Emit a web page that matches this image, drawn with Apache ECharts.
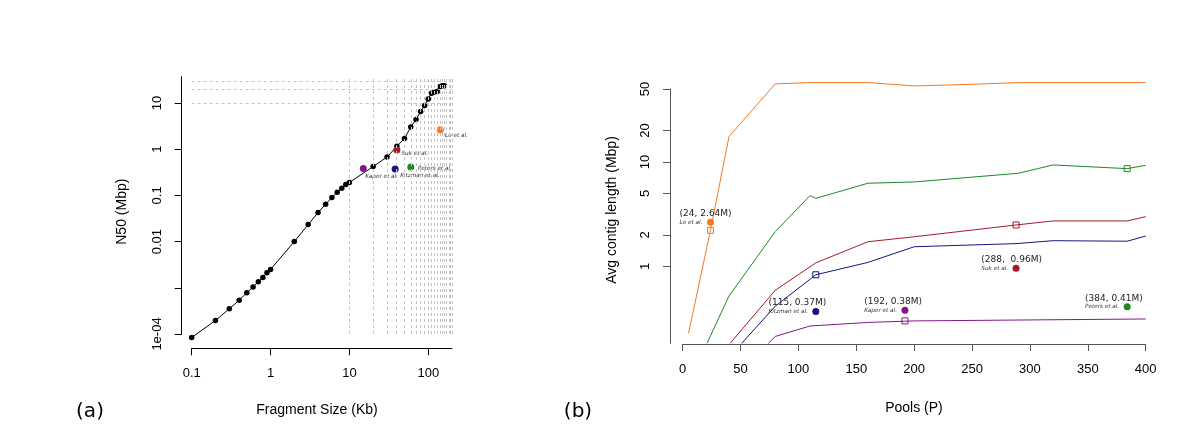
<!DOCTYPE html>
<html><head><meta charset="utf-8">
<script src="https://cdn.jsdelivr.net/npm/echarts@6/dist/echarts.min.js"></script>
<style>html,body{margin:0;padding:0;background:#fff}#c{width:1200px;height:435px}</style>
</head><body><div id="c"></div>
<script>
// ---------- Panel (a): N50 vs fragment size ----------
const fragSizeKb = [0.1,0.2,0.3,0.4,0.5,0.6,0.7,0.8,0.9,1,2,3,4,5,6,7,8,9,10,20,30,40,50,60,70,80,90,100,110,120,130,140,150,160];
const n50Mbp = [8.4e-5,1.96e-4,3.5e-4,5.4e-4,7.8e-4,1.04e-3,1.35e-3,1.68e-3,2.12e-3,2.5e-3,0.01,0.0233,0.0425,0.0644,0.09,0.117,0.143,0.172,0.19,0.42,0.675,1.15,1.71,3.0,4.4,6.5,8.8,12.2,16.3,17.3,17.8,22.5,23.5,23.7];
const studyNamesA = ['Lo et al.','Suk et al.','Peters et al.','Kitzman et al.','Kaper et al.'];
const studyFragKb = [142, 40, 60, 38, 15];
const studyN50 = [2.64, 0.96, 0.41, 0.37, 0.38];
const refLinesFragKb = [10,20,30,40,50,60,70,80,90,100,110,120,130,140,150,160,170,180,190,200];
const refLinesN50 = [10,20,30];
const aXTicks = [0.1,1,10,100];
const aXTickLabels = ['0.1','1','10','100'];
const aYTicks = [1e-4,1e-3,0.01,0.1,1,10];
const aYTickLabels = ['1e-04','','0.01','0.1','1','10'];

// ---------- Panel (b): avg contig length vs pools ----------
const orangeP = [5,24,40,80,110,160,200,250,290,400];
const orangeV = [0.228,2.21,17.5,56,57.6,57.6,53.5,55.5,57.6,57.6];
const greenP = [21,40,80,110,115,160,200,290,320,384,400];
const greenV = [0.183,0.52,2.15,4.76,4.48,6.25,6.43,7.79,9.36,8.63,9.29];
const redP = [41,80,115,160,200,288,320,384,400];
const redV = [0.183,0.59,1.08,1.72,1.92,2.49,2.72,2.72,2.99];
const blueP = [51,80,115,160,200,288,320,384,400];
const blueV = [0.183,0.415,0.83,1.09,1.54,1.65,1.76,1.74,1.95];
const purpleP = [74,80,110,160,200,400];
const purpleV = [0.183,0.213,0.268,0.29,0.30,0.313];
const squareP = [24,115,192,288,384];
const squareV = [2.21,0.83,0.30,2.49,8.63];
const studyNamesB = ['Lo et al.','Kitzman et al.','Kaper et al.','Suk et al.','Peters et al.'];
const studyP = [24,115,192,288,384];
const studyAvg = [2.64,0.37,0.38,0.96,0.41];
const studyCoordLabels = ['(24, 2.64M)','(115, 0.37M)','(192, 0.38M)','(288,  0.96M)','(384, 0.41M)'];
const bXTicks = [0,50,100,150,200,250,300,350,400];
const bYTicks = [1,2,5,10,20,50];
const bYTickLabels = ['1','2','5','10','20','50'];

// ---------- styles ----------
const C = {orange:'#f7781e', green:'#1f8a24', red:'#a8182a', blue:'#14147e', purple:'#85168a'};
const colorA = {'Lo et al.':C.orange,'Suk et al.':C.red,'Peters et al.':C.green,'Kitzman et al.':C.blue,'Kaper et al.':C.purple};
const nudgeA = {'Lo et al.':[4.7,5.7],'Suk et al.':[4.5,4],'Peters et al.':[7,1.7],'Kitzman et al.':[5,6.5],'Kaper et al.':[2,7.5]};
const squareColors = [C.orange,C.blue,C.purple,C.red,C.green];
const AX = 'Liberation Sans, Arial, sans-serif';
const DJ = 'DejaVu Sans, sans-serif';
const L = v => Math.log10(v);
const fmtFrom = (ticks, labels) => v => { for (let i=0;i<ticks.length;i++){ if (Math.abs(L(ticks[i])-v)<1e-6) return labels[i]; } return ''; };

const cv = document.createElement('canvas').getContext('2d');
const etalFont = 'italic 5.7px DejaVu Sans';
function tw(t){ cv.font = etalFont; return cv.measureText(t).width; }

const chart = echarts.init(document.getElementById('c'), null, {renderer:'canvas'});
const axisCommon = (color) => ({
  axisLine:{show:true,onZero:false,lineStyle:{color:color,width:1}},
  splitLine:{show:false},
});
const option = {
  backgroundColor:'#fff',
  animation:false,
  grid:[
    {left:191.7, top:76.7, width:260.3, height:257.3},
    {left:682.7, top:89, width:463, height:254.3}
  ],
  xAxis:[
    Object.assign({gridIndex:0,type:'value',min:L(0.1),max:L(200),offset:14.3,
      axisTick:{show:true,inside:false,length:7,customValues:aXTicks.map(L),lineStyle:{color:'#000'}},
      axisLabel:{customValues:aXTicks.map(L),formatter:fmtFrom(aXTicks,aXTickLabels),margin:19,fontFamily:AX,fontSize:13,color:'#000'}
    }, axisCommon('#000')),
    Object.assign({gridIndex:1,type:'value',min:0,max:400,interval:50,offset:0.7,
      axisTick:{show:true,inside:false,length:7,lineStyle:{color:'#555'}},
      axisLabel:{margin:19,fontFamily:AX,fontSize:13,color:'#000'}
    }, axisCommon('#555'))
  ],
  yAxis:[
    Object.assign({gridIndex:0,type:'value',min:-4,max:L(37),offset:10,
      axisTick:{show:true,inside:false,length:7,customValues:aYTicks.map(L),lineStyle:{color:'#000'}},
      axisLabel:{customValues:aYTicks.filter((t,i)=>aYTickLabels[i]!=='').map(L),formatter:fmtFrom(aYTicks,aYTickLabels),rotate:90,margin:18,fontFamily:AX,fontSize:13,color:'#000'}
    }, axisCommon('#000')),
    Object.assign({gridIndex:1,type:'value',min:L(0.183),max:L(50),offset:12.7,
      axisTick:{show:true,inside:false,length:7,customValues:bYTicks.map(L),lineStyle:{color:'#555'}},
      axisLabel:{customValues:bYTicks.map(L),formatter:fmtFrom(bYTicks,bYTickLabels),rotate:90,margin:18,fontFamily:AX,fontSize:13,color:'#000'}
    }, axisCommon('#555'))
  ],
  series:[
    {type:'line',xAxisIndex:0,yAxisIndex:0,data:[],z:1,silent:true,
      markLine:{silent:true,symbol:'none',animation:false,label:{show:false},
        lineStyle:{color:'#c4c4c4',type:[3,3],width:1},
        data:[...refLinesFragKb.map(v=>({xAxis:L(v)})), ...refLinesN50.map(v=>({yAxis:L(v)}))]}},
    {type:'line',xAxisIndex:0,yAxisIndex:0,z:3,clip:false,
      data:fragSizeKb.map((x,i)=>[L(x),L(n50Mbp[i])]),
      symbol:'circle',symbolSize:5.5,showSymbol:true,showAllSymbol:true,
      lineStyle:{color:'#000',width:1},itemStyle:{color:'#000',opacity:1}},
    {type:'scatter',xAxisIndex:0,yAxisIndex:0,z:4,clip:false,symbolSize:7,
      data:studyNamesA.map((n,i)=>({name:n,value:[L(studyFragKb[i]),L(studyN50[i])],
        itemStyle:{color:colorA[n],opacity:1},
        label:{show:true,position:[nudgeA[n][0]+3.5,nudgeA[n][1]+3.5],align:'left',verticalAlign:'middle',
          formatter:n,fontFamily:DJ,fontStyle:'italic',fontSize:5.7,color:'#333'}}))},
    ...[[orangeP,orangeV,C.orange],[greenP,greenV,C.green],[redP,redV,C.red],[blueP,blueV,C.blue],[purpleP,purpleV,C.purple]].map(([P,V,c])=>({
      type:'line',xAxisIndex:1,yAxisIndex:1,clip:false,symbol:'none',showSymbol:false,z:2,
      data:P.map((p,i)=>[p,L(V[i])]),lineStyle:{color:c,width:1}
    })),
    {type:'scatter',xAxisIndex:1,yAxisIndex:1,clip:false,symbol:'rect',symbolSize:6,z:3,
      data:squareP.map((p,i)=>({value:[p,L(squareV[i])],itemStyle:{color:'rgba(0,0,0,0)',borderColor:squareColors[i],borderWidth:1,opacity:1}}))},
    {type:'scatter',xAxisIndex:1,yAxisIndex:1,clip:false,symbol:'circle',symbolSize:7,z:4,
      data:studyNamesB.map((n,i)=>{
        const w = tw(n);
        return {name:n,value:[studyP[i],L(studyAvg[i])],itemStyle:{color:colorA[n],opacity:1},
          label:{show:true,position:[-8-w+3.5,-13+3.5],align:'left',verticalAlign:'top',
            formatter:'{c|'+studyCoordLabels[i]+'}\n{e|'+n+'}',
            rich:{c:{fontFamily:DJ,fontSize:9,lineHeight:9,color:'#222'},
                  e:{fontFamily:DJ,fontStyle:'italic',fontSize:5.7,lineHeight:8,color:'#333'}}}};
      })}
  ],
  graphic:[
    {type:'text',x:90,y:412,style:{text:'(a)',font:'20px DejaVu Sans',fill:'#000',align:'center',verticalAlign:'middle'}},
    {type:'text',x:578,y:412,style:{text:'(b)',font:'20px DejaVu Sans',fill:'#000',align:'center',verticalAlign:'middle'}},
    {type:'text',x:121.7,y:211.7,rotation:Math.PI/2,style:{text:'N50 (Mbp)',font:'14px Liberation Sans',fill:'#000',align:'center',verticalAlign:'middle'}},
    {type:'text',x:317,y:410,style:{text:'Fragment Size (Kb)',font:'14px Liberation Sans',fill:'#000',align:'center',verticalAlign:'middle'}},
    {type:'text',x:612,y:210,rotation:Math.PI/2,style:{text:'Avg contig length (Mbp)',font:'14px Liberation Sans',fill:'#000',align:'center',verticalAlign:'middle'}},
    {type:'text',x:914,y:408,style:{text:'Pools (P)',font:'14px Liberation Sans',fill:'#000',align:'center',verticalAlign:'middle'}}
  ]
};
chart.setOption(option);
</script></body></html>
